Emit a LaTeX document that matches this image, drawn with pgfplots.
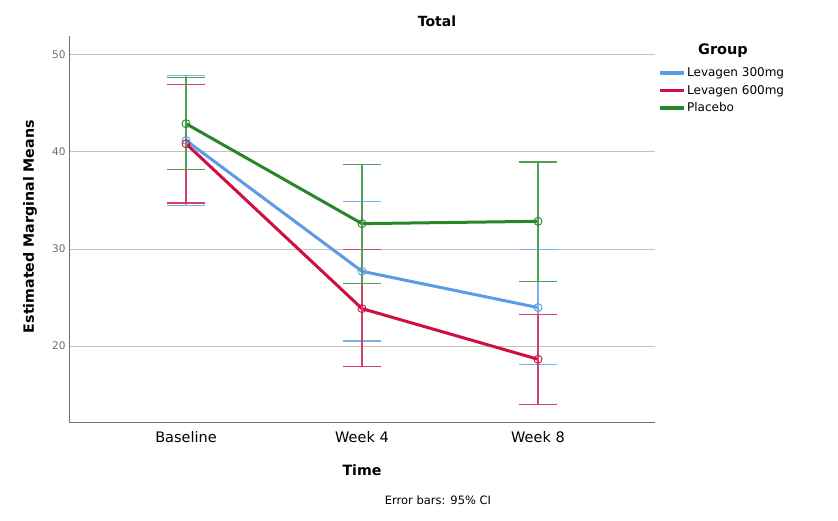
\documentclass[border=0pt]{standalone}
\usepackage{pgfplots}
\pgfplotsset{compat=1.18}
\usepackage{pgfplotstable}
\usepackage{fontspec}
\setmainfont{DejaVu Sans}
\definecolor{cblue}{RGB}{92,155,230}
\definecolor{cred}{RGB}{205,15,65}
\definecolor{cgreen}{RGB}{40,135,40}
\definecolor{gridgray}{RGB}{195,195,195}
\definecolor{axgray}{RGB}{110,110,110}

% x: 0 Baseline, 1 Week 4, 2 Week 8; ep/em: upper and lower CI distance
\pgfplotstableread{
x y ep em
0 41.16 6.68 6.68
1 27.70 7.19 7.17
2 23.97 5.96 5.87
}\lowdose
\pgfplotstableread{
x y ep em
0 40.82 6.08 6.10
1 23.86 6.10 5.93
2 18.65 4.63 4.62
}\highdose
\pgfplotstableread{
x y ep em
0 42.88 4.72 4.68
1 32.60 6.06 6.17
2 32.84 6.09 6.17
}\placebo

\pgfplotsset{
  meanline/.style={#1, line width=3pt, mark=o, mark size=4pt,
    mark options={line width=0.9pt},
    legend image code/.code={\draw[line width=3.5pt] (0pt,0pt) -- (24pt,0pt);},
    error bars/.cd, y dir=both, y explicit,
    error bar style={line width=1.2pt, color=#1!80},
    error mark=|,
    error mark options={mark size=19pt, line width=1.2pt, color=#1!80}},
}

\begin{document}
\begin{tikzpicture}
\useasboundingbox (0pt,0pt) rectangle (838pt,521pt);
\begin{axis}[
    at={(69pt,99pt)}, anchor=south west,
    width=586pt, height=386pt, scale only axis,
    xmin=-0.665, xmax=2.665,
    ymin=12.2, ymax=51.9,
    xtick={0,1,2}, xticklabels={Baseline,Week 4,Week 8},
    ytick={20,30,40,50},
    ymajorgrids, grid style={gridgray, line width=0.8pt},
    axis x line*=bottom, axis y line*=left,
    axis line style={draw=axgray, line width=0.8pt, -},
    major tick length=0pt,
    /pgf/number format/assume math mode=true,
    yticklabel style={font=\fontsize{10.5}{12}\selectfont, text=axgray},
    xticklabel style={font=\fontsize{14.5}{16}\selectfont, yshift=-6pt},
    xlabel={\bfseries Time},
    ylabel={\bfseries Estimated Marginal Means},
    xlabel style={at={(axis description cs:0.5,-0.125)}, anchor=center, font=\fontsize{14.2}{16}\selectfont},
    ylabel style={at={(axis description cs:-0.0666,0.506)}, anchor=center, font=\fontsize{14.2}{16}\selectfont},
    legend style={at={(1.005,0.922)}, anchor=north west, draw=none, fill=none,
        font=\fontsize{12}{13}\selectfont, row sep=4pt, inner sep=0pt,
        nodes={inner sep=1.5pt}},
    legend cell align=left,
    clip=false,
]

\addplot[meanline=cblue] table[x=x, y=y, y error plus=ep, y error minus=em] {\lowdose};
\addlegendentry{Levagen 300mg}

\addplot[meanline=cred] table[x=x, y=y, y error plus=ep, y error minus=em] {\highdose};
\addlegendentry{Levagen 600mg}

\addplot[meanline=cgreen] table[x=x, y=y, y error plus=ep, y error minus=em] {\placebo};
\addlegendentry{Placebo}

\end{axis}
\node[font=\bfseries\fontsize{14}{16}\selectfont] at (437pt,500pt) {Total};
\node[font=\bfseries\fontsize{14.5}{16}\selectfont] at (723pt,470pt) {Group};
\node[font=\fontsize{11.5}{13}\selectfont] at (438pt,21pt) {Error bars: 95\% CI};
\end{tikzpicture}
\end{document}
